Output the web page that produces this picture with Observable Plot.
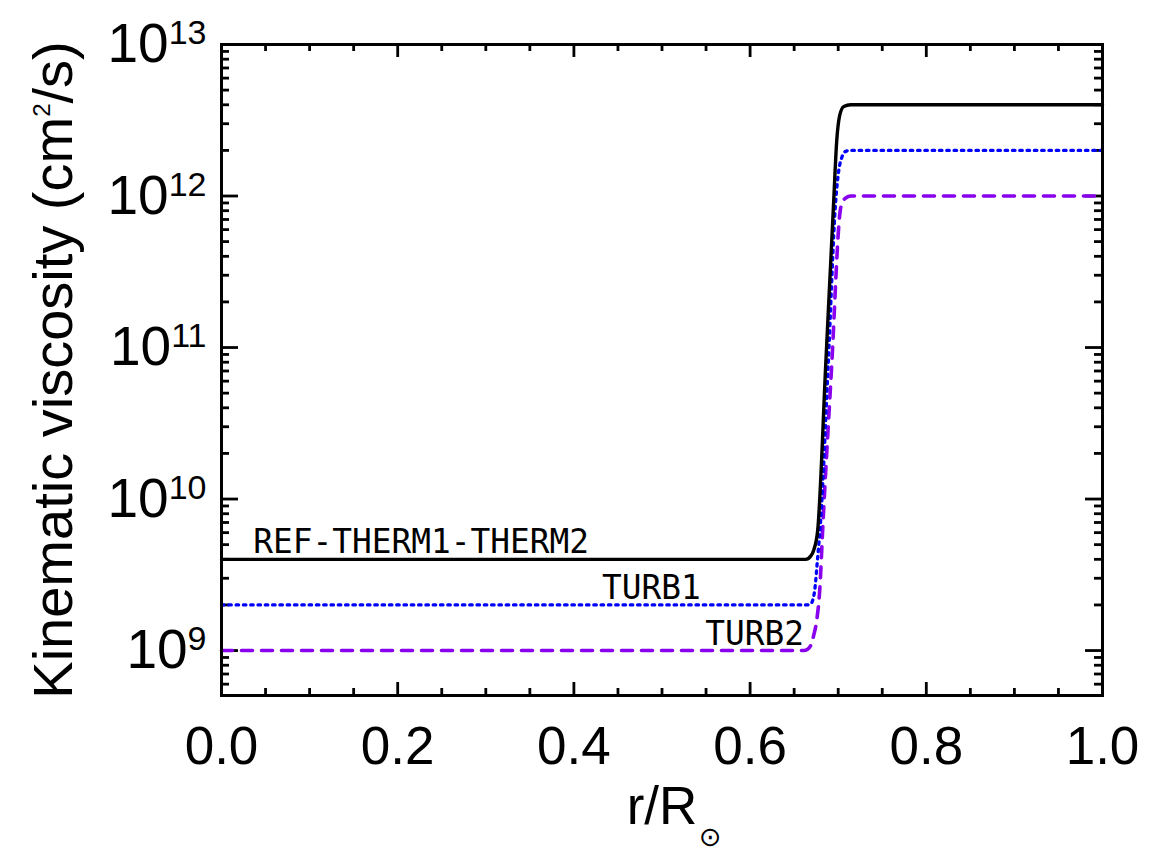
<!DOCTYPE html>
<html>
<head>
<meta charset="utf-8">
<script src="https://cdn.jsdelivr.net/npm/d3@7"></script>
<script src="https://cdn.jsdelivr.net/npm/@observablehq/plot@0.6"></script>
<style>
  html, body { margin: 0; padding: 0; background: #fff; }
</style>
</head>
<body>
<div id="chart"></div>
<script>
// ---- Data ----
// r/R_sun positions and kinematic viscosity (cm^2/s) for each profile
const refX  = [0.0, 0.6631, 0.6688, 0.6722, 0.6767, 0.6858, 0.6949, 0.6983, 0.7017, 0.7063, 0.7142, 1.0];
const refNu = [4e9, 4e9, 4.2e9, 4.6e9, 6.2e9, 7.6e10, 9.3e11, 2.3e12, 3.4e12, 3.9e12, 4e12, 4e12];

const turb1X  = [0.0, 0.6642, 0.6688, 0.6710, 0.6733, 0.6764, 0.6801, 0.6886, 0.6972, 0.7006, 0.7040, 0.7085, 0.7142, 1.0];
const turb1Nu = [2e9, 2e9, 2.04e9, 2.14e9, 2.49e9, 3.93e9, 7.2e9, 7.6e10, 9.3e11, 1.47e12, 1.79e12, 1.97e12, 2e12, 2e12];

const turb2X  = [0.0, 0.6608, 0.6653, 0.6688, 0.6722, 0.6756, 0.6790, 0.6827, 0.6926, 0.7023, 0.7051, 0.7085, 0.7142, 1.0];
const turb2Nu = [1e9, 1e9, 1.02e9, 1.08e9, 1.26e9, 1.58e9, 2.49e9, 6.9e9, 7.6e10, 8.0e11, 9.2e11, 9.7e11, 1e12, 1e12];

// Curve labels, anchored on each profile's inner value
const labelText = ["REF-THERM1-THERM2", "TURB1", "TURB2"];
const labelX    = [0.036, 0.432, 0.549];
const labelNu   = [4e9, 2e9, 1e9];

// Ticks
const xMajor = [0.0, 0.2, 0.4, 0.6, 0.8, 1.0];
const xMinor = [0.05, 0.1, 0.15, 0.25, 0.3, 0.35, 0.45, 0.5, 0.55, 0.65, 0.7, 0.75, 0.85, 0.9, 0.95];
const yMajor = [1e9, 1e10, 1e11, 1e12, 1e13];
const yMinor = [6e8, 7e8, 8e8, 9e8,
  2e9, 3e9, 4e9, 5e9, 6e9, 7e9, 8e9, 9e9,
  2e10, 3e10, 4e10, 5e10, 6e10, 7e10, 8e10, 9e10,
  2e11, 3e11, 4e11, 5e11, 6e11, 7e11, 8e11, 9e11,
  2e12, 3e12, 4e12, 5e12, 6e12, 7e12, 8e12, 9e12];

const yTitle = "Kinematic viscosity (cm2/s)";
const xTitle = "r/R";
const xTitleSub = "⊙";

// ---- Build rows ----
const rows = (xs, ys) => xs.map((r, i) => ({r, nu: ys[i]}));
const refRows = rows(refX, refNu);
const t1Rows = rows(turb1X, turb1Nu);
const t2Rows = rows(turb2X, turb2Nu);
const labels = labelText.map((t, i) => ({t, r: labelX[i], nu: labelNu[i]}));

const W = 1161, H = 856, mL = 221, mR = 59, mT = 44, mB = 161;
const pW = W - mL - mR, pH = H - mT - mB;
const sans = "'Liberation Sans', Arial, Helvetica, sans-serif";
const tw = 2.8;

const chart = Plot.plot({
  width: W, height: H,
  marginLeft: mL, marginRight: mR, marginTop: mT, marginBottom: mB,
  style: {fontFamily: sans, background: "#fff", color: "#000", overflow: "visible"},
  x: {domain: [0, 1]},
  y: {type: "log", domain: [5.05e8, 1e13]},
  marks: [
    // inward ticks
    Plot.tickX(xMajor, {x: d => d, insetTop: pH - 13, stroke: "#000", strokeWidth: tw}),
    Plot.tickX(xMajor, {x: d => d, insetBottom: pH - 13, stroke: "#000", strokeWidth: tw}),
    Plot.tickX(xMinor, {x: d => d, insetTop: pH - 7, stroke: "#000", strokeWidth: tw}),
    Plot.tickX(xMinor, {x: d => d, insetBottom: pH - 7, stroke: "#000", strokeWidth: tw}),
    Plot.tickY(yMajor, {y: d => d, insetRight: pW - 17, stroke: "#000", strokeWidth: tw}),
    Plot.tickY(yMajor, {y: d => d, insetLeft: pW - 17, stroke: "#000", strokeWidth: tw}),
    Plot.tickY(yMinor, {y: d => d, insetRight: pW - 8, stroke: "#000", strokeWidth: tw}),
    Plot.tickY(yMinor, {y: d => d, insetLeft: pW - 8, stroke: "#000", strokeWidth: tw}),
    // axes labels
    Plot.axisX(xMajor, {tickSize: 0, tickPadding: 31, tickFormat: d => d.toFixed(1), fontSize: 53, label: null}),
    Plot.axisY(yMajor, {tickSize: 0, tickPadding: 15, tickFormat: d => "10^" + Math.round(Math.log10(d)), fontSize: 55, label: null}),
    // profiles
    Plot.line(t2Rows, {x: "r", y: "nu", stroke: "#8800ee", strokeWidth: 3.6, strokeDasharray: "11 9", curve: "monotone-x"}),
    Plot.line(t1Rows, {x: "r", y: "nu", stroke: "#0000ff", strokeWidth: 3.3, strokeDasharray: "2.5 4.8", curve: "monotone-x"}),
    Plot.line(refRows, {x: "r", y: "nu", stroke: "#000", strokeWidth: 3.4, curve: "monotone-x"}),
    // curve labels
    Plot.text(labels, {x: "r", y: "nu", text: "t", textAnchor: "start", lineAnchor: "bottom", dy: -6,
      fontFamily: "'DejaVu Sans Mono', monospace", fontSize: 32.8, fill: "#000"}),
    // titles
    Plot.text([yTitle], {frameAnchor: "left", text: d => d, rotate: -90, textAnchor: "middle", lineAnchor: "bottom",
      dx: -150, fontSize: 56, fill: "#000"}),
    Plot.text([xTitle], {frameAnchor: "bottom", text: d => d, textAnchor: "middle", lineAnchor: "bottom",
      dy: 128, fontSize: 53, fill: "#000"}),
    Plot.text([xTitleSub], {frameAnchor: "bottom", text: d => d, textAnchor: "start", lineAnchor: "bottom",
      dx: 37, dy: 150, fontSize: 27, fontFamily: "'DejaVu Sans', sans-serif", fill: "#000"}),
    Plot.frame({stroke: "#000", strokeWidth: 3})
  ]
});

const SVGNS = "http://www.w3.org/2000/svg";
// superscript exponents on the y tick labels
chart.querySelectorAll('g[aria-label="y-axis tick label"] text').forEach(el => {
  const s = el.textContent;
  if (!s.includes("^")) return;
  const [base, exp] = s.split("^");
  while (el.firstChild) el.removeChild(el.firstChild);
  el.appendChild(document.createTextNode(base));
  const ts = document.createElementNS(SVGNS, "tspan");
  ts.setAttribute("dy", "-18");
  ts.setAttribute("font-size", "34");
  ts.textContent = exp;
  el.appendChild(ts);
});
// superscript "2" in the y title
chart.querySelectorAll("text").forEach(el => {
  if (el.textContent !== yTitle) return;
  const [pre, post] = yTitle.split("cm2");
  while (el.firstChild) el.removeChild(el.firstChild);
  el.appendChild(document.createTextNode(pre + "cm"));
  const sup = document.createElementNS(SVGNS, "tspan");
  sup.setAttribute("dy", "-22");
  sup.setAttribute("font-size", "24");
  sup.textContent = "2";
  el.appendChild(sup);
  const rest = document.createElementNS(SVGNS, "tspan");
  rest.setAttribute("dy", "22");
  rest.textContent = post;
  el.appendChild(rest);
});

document.getElementById("chart").appendChild(chart);
</script>
</body>
</html>
